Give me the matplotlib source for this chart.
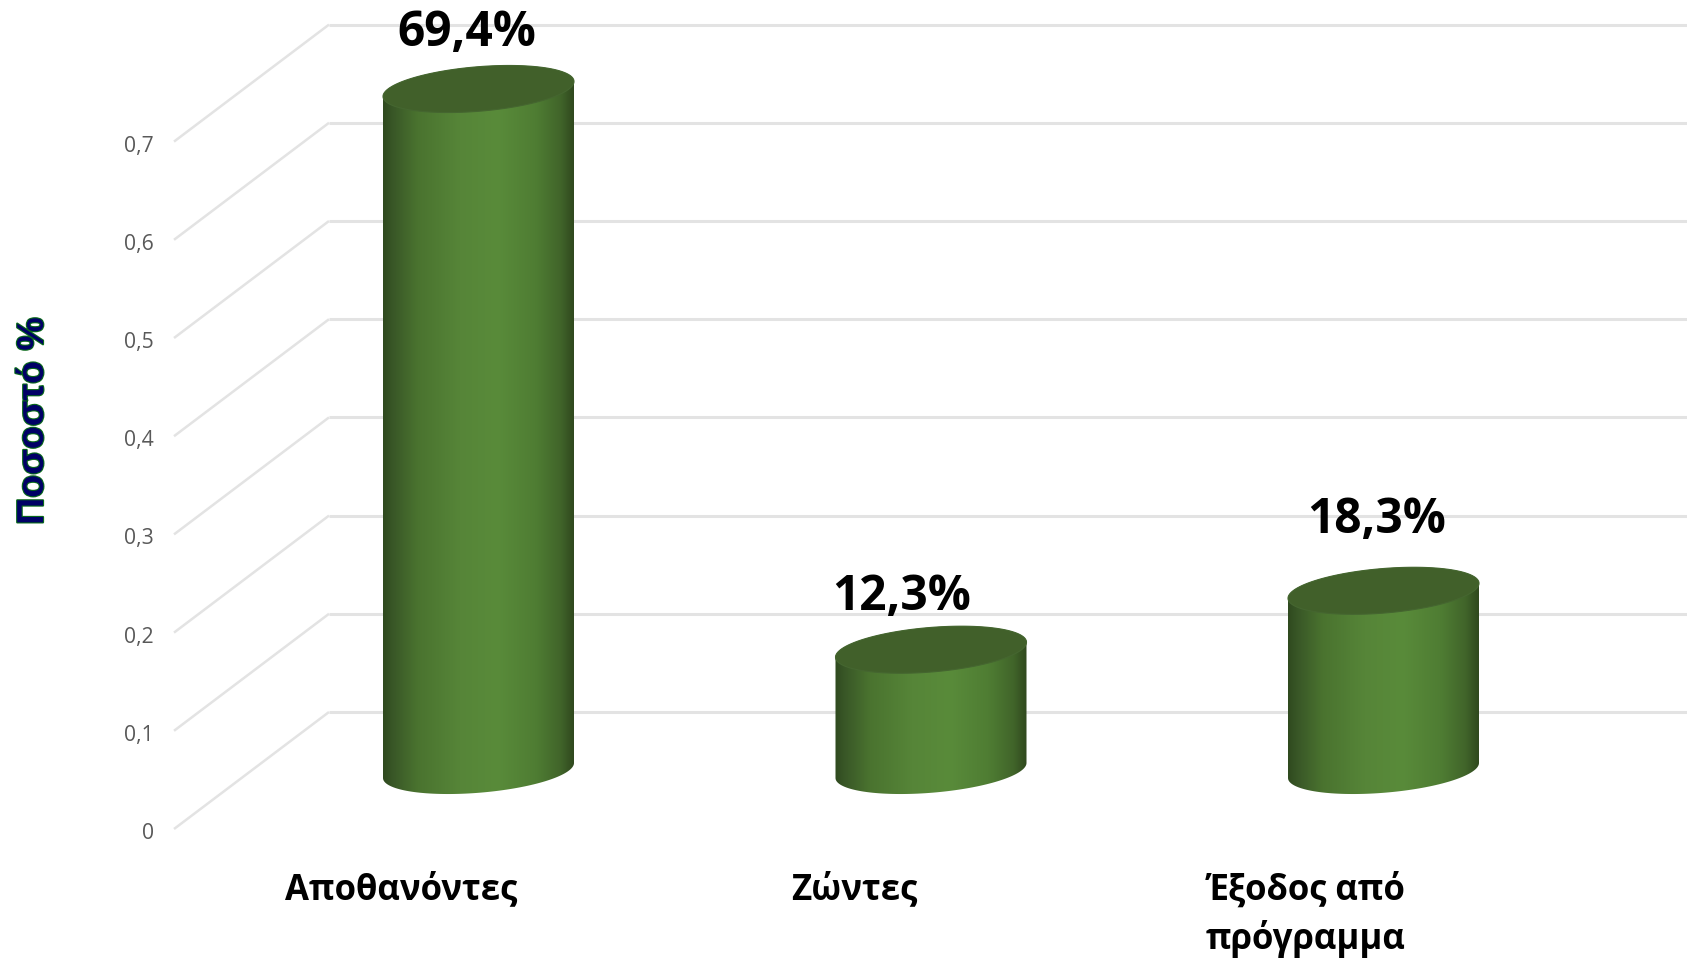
import numpy as np
import matplotlib
matplotlib.use("Agg")
import matplotlib.pyplot as plt
from matplotlib.colors import LinearSegmentedColormap
from matplotlib.patches import PathPatch
from matplotlib.path import Path
import matplotlib.patheffects as pe

categories = ["Αποθανόντες", "Ζώντες", "Έξοδος από\nπρόγραμμα"]
values = [0.694, 0.123, 0.183]
value_labels = ["69,4%", "12,3%", "18,3%"]
y_ticks = [0, 0.1, 0.2, 0.3, 0.4, 0.5, 0.6, 0.7]
y_tick_labels = ["0", "0,1", "0,2", "0,3", "0,4", "0,5", "0,6", "0,7"]
y_title = "Ποσοστό %"

W, H = 1687, 961
PX_X, PX_Y = 452.5, 982.0      # pixels per category step / per unit of value
X0, Y0 = 478.5, 770.5          # pixel position of first bar centre at value 0

def px_x(p): return (p - X0) / PX_X
def px_y(p): return (Y0 - p) / PX_Y

fig = plt.figure(figsize=(W / 100, H / 100), dpi=100, facecolor="white")
ax = fig.add_axes([0, 0, 1, 1])
ax.set_xlim(px_x(0), px_x(W))
ax.set_ylim(px_y(H), px_y(0))
ax.axis("off")

FONT = ["Open Sans", "DejaVu Sans"]
TITLE_FONT = ["Liberation Sans", "DejaVu Sans"]

# Walls
depth = 58.5 / PX_Y
x_front, x_back = px_x(174), px_x(329)
grid = "#e3e3e3"
for t, lab in zip(y_ticks, y_tick_labels):
    ax.plot([x_front, x_back], [t - depth, t + depth], color=grid, lw=1.8, zorder=1,
            solid_capstyle="butt")
    ax.plot([x_back, px_x(W)], [t + depth, t + depth], color=grid, lw=2.2, zorder=1,
            solid_capstyle="butt")
    ax.text(px_x(154), t - depth - 4.5 / PX_Y, lab, ha="right", va="center", fontsize=15.2,
            color="#595959", family=FONT, zorder=2)

# Cylinders
cmap = LinearSegmentedColormap.from_list("cyl", [
    (0.00, "#2f4a1f"), (0.05, "#395727"), (0.18, "#4a732f"), (0.40, "#568538"),
    (0.60, "#598b3a"), (0.80, "#4f7d33"), (0.93, "#41652a"), (1.00, "#30491e")])
grad = np.linspace(0, 1, 256).reshape(1, -1)
a = 95.5 / PX_X
b = 22.3 / PX_Y
s = 7.5 / PX_Y

def rim(xc, yc, t):
    return xc + a * np.cos(t), yc + b * np.sin(t) + s * np.cos(t)

for i, v in enumerate(values):
    tb = np.linspace(np.pi, 2 * np.pi, 80)
    xb, yb = rim(i, 0, tb)
    tt = np.linspace(0, np.pi, 80)
    xt, yt = rim(i, v, tt)
    verts = np.column_stack([np.r_[xb, xt], np.r_[yb, yt]])
    body = Path(np.vstack([verts, verts[0]]), closed=True)
    clip = PathPatch(body, transform=ax.transData, fc="none", ec="none")
    ax.add_patch(clip)
    im = ax.imshow(grad, cmap=cmap, aspect="auto", zorder=3, interpolation="bilinear",
                   extent=[i - a, i + a, -0.1, v + 0.1], vmin=0, vmax=1)
    im.set_clip_path(clip)
    tf = np.linspace(0, 2 * np.pi, 160)
    xf, yf = rim(i, v, tf)
    ax.add_patch(PathPatch(Path(np.column_stack([xf, yf]), closed=True), fc="#41602a",
                           ec="#456630", lw=0.8, zorder=4))
ax.set_xlim(px_x(0), px_x(W))
ax.set_ylim(px_y(H), px_y(0))

# Value labels
label_x = [467, 901.5, 1377]
label_y = [33, 598, 520.5]
for lab, lx, ly in zip(value_labels, label_x, label_y):
    ax.text(px_x(lx), px_y(ly), lab, ha="center", va="center", fontsize=34.5,
            fontweight="bold", color="black", family=FONT, zorder=6)

# Category labels
cat_x = [401, 854, 1306]
for c, cx in zip(categories, cat_x):
    ax.text(px_x(cx), px_y(872), c, ha="center", va="top", fontsize=25,
            fontweight="bold", color="black", family=FONT, linespacing=1.42, zorder=6)

# Axis title
ax.text(px_x(33), px_y(421), y_title, rotation=90, ha="center", va="center",
        fontsize=27, fontweight="bold", color="#000066", family=TITLE_FONT, zorder=6,
        path_effects=[pe.withStroke(linewidth=1.6, foreground="#0a6a1a")])

fig.savefig("out.png", dpi=100, facecolor="white")
